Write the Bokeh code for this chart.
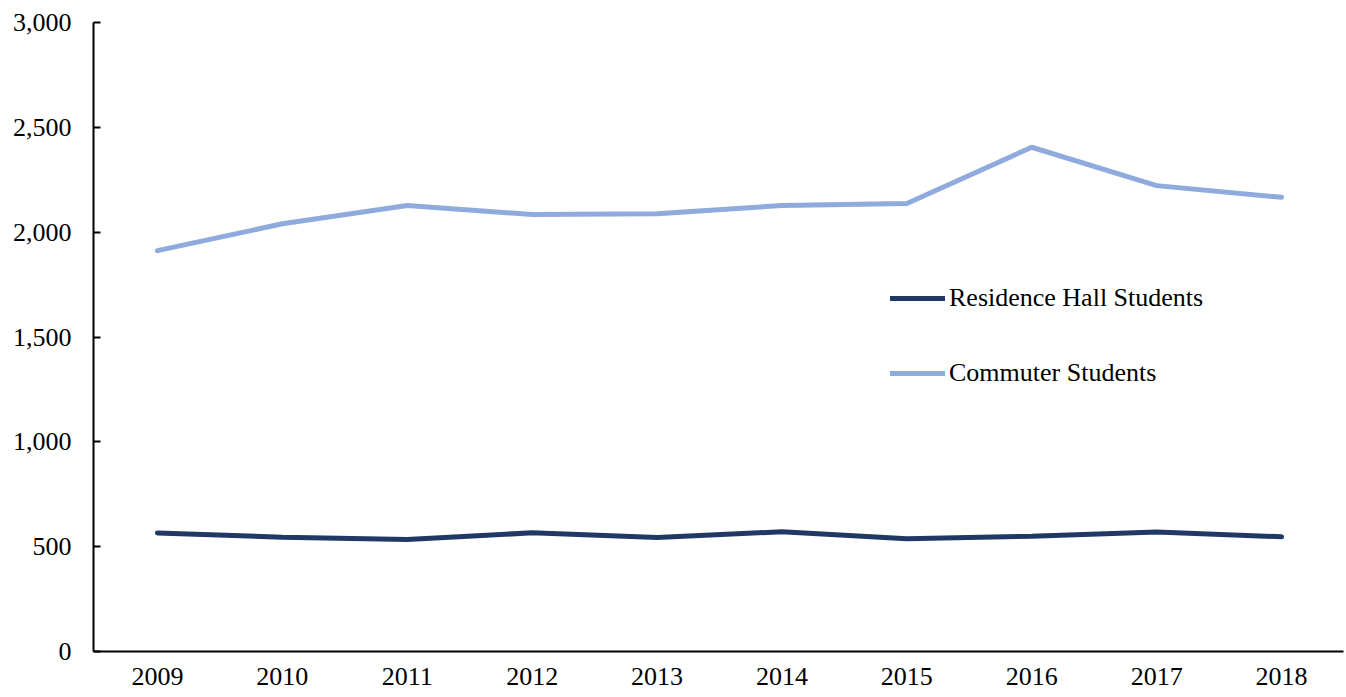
from bokeh.plotting import figure
from bokeh.models import Range1d, FixedTicker, NumeralTickFormatter, Legend, LegendItem
from bokeh.embed import file_html
from bokeh.resources import INLINE

years = [2009, 2010, 2011, 2012, 2013, 2014, 2015, 2016, 2017, 2018]
residence = [565, 545, 534, 566, 544, 571, 538, 550, 570, 547]
commuter = [1912, 2040, 2127, 2084, 2088, 2127, 2137, 2405, 2222, 2166]
y_ticks = [0, 500, 1000, 1500, 2000, 2500, 3000]

FONT = "Liberation Serif"
NAVY = "#1F3864"
LIGHT = "#8FAADC"

p = figure(width=1344, height=697, output_backend="svg", toolbar_location=None,
           x_range=Range1d(2008.488, 2018.496), y_range=Range1d(0, 3000),
           min_border_left=93, min_border_right=1, min_border_top=22, min_border_bottom=46)
p.outline_line_color = None
p.xgrid.visible = False
p.ygrid.visible = False

r1 = p.line(years, residence, line_color=NAVY, line_width=5, line_cap="round")
r2 = p.line(years, commuter, line_color=LIGHT, line_width=5, line_cap="round")

p.xaxis.ticker = FixedTicker(ticks=years)
p.xaxis.major_label_overrides = {y: str(y) for y in years}
p.xaxis.major_tick_in = 0
p.xaxis.major_tick_out = 0
p.xaxis.minor_tick_in = 0
p.xaxis.minor_tick_out = 0
p.xaxis.major_label_standoff = 16

p.yaxis.ticker = FixedTicker(ticks=y_ticks)
p.yaxis.formatter = NumeralTickFormatter(format="0,0")
p.yaxis.major_tick_in = 7
p.yaxis.major_tick_out = 0
p.yaxis.minor_tick_in = 0
p.yaxis.minor_tick_out = 0
p.yaxis.major_label_standoff = 22

for ax in (p.xaxis, p.yaxis):
    ax.axis_line_color = "black"
    ax.axis_line_width = 2
    ax.major_tick_line_color = "black"
    ax.major_tick_line_width = 2
    ax.major_label_text_font = FONT
    ax.major_label_text_font_size = "26px"
    ax.major_label_text_color = "black"

legend = Legend(items=[LegendItem(label="Residence Hall Students", renderers=[r1]),
                       LegendItem(label="Commuter Students", renderers=[r2])],
                location=(797, 263), orientation="vertical",
                glyph_width=55, glyph_height=30, label_height=30, label_standoff=4,
                spacing=45, padding=0, margin=0,
                border_line_color=None, background_fill_alpha=0,
                label_text_font=FONT, label_text_font_size="26px", label_text_color="black")
p.add_layout(legend)

open("out.html", "w").write(file_html(p, INLINE))
